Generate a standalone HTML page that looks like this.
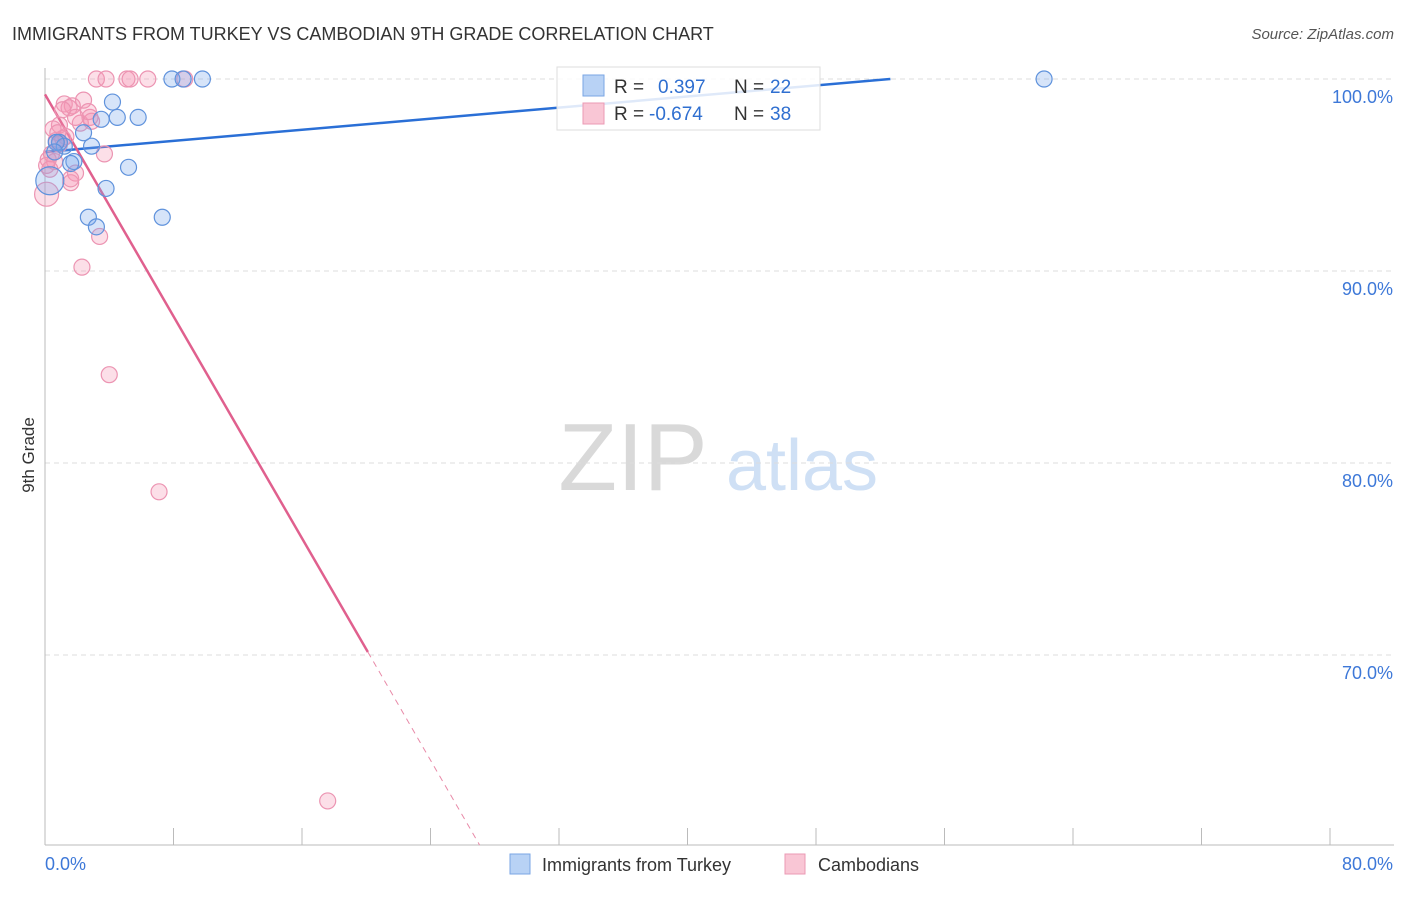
<!DOCTYPE html>
<html><head><meta charset="utf-8"><style>
body{margin:0;background:#fff;font-family:"Liberation Sans",sans-serif;}
svg text{font-family:"Liberation Sans",sans-serif;}
</style></head><body>
<svg id="c" width="1406" height="892" xmlns="http://www.w3.org/2000/svg">
<text x="12" y="40" font-size="18" fill="#333">IMMIGRANTS FROM TURKEY VS CAMBODIAN 9TH GRADE CORRELATION CHART</text>
<text x="1394" y="39" font-size="15" fill="#555" text-anchor="end" font-style="italic">Source: ZipAtlas.com</text>
<text transform="translate(34,455) rotate(-90)" font-size="17" fill="#333" text-anchor="middle">9th Grade</text>
<g>
<text x="633" y="490" font-size="96" fill="#d9d9d9" font-family="Liberation Serif,serif" text-anchor="middle">ZIP</text>
<text x="802" y="490" font-size="72" fill="#cfe0f5" text-anchor="middle">atlas</text>
</g>
<g id="grid"></g><g id="axes"></g><g id="lines"></g><g id="pts"></g>
<g>
<rect x="557" y="67" width="263" height="63" fill="#fff" fill-opacity="0.85" stroke="#ddd"/>
<rect x="583" y="75" width="21" height="21" fill="#b8d2f5" stroke="#7aa6e4"/>
<rect x="583" y="103" width="21" height="21" fill="#f9c6d5" stroke="#eb9ab4"/>
<text x="614" y="93" font-size="19" fill="#333">R =</text>
<text x="658" y="93" font-size="19" fill="#2f6fd0">0.397</text>
<text x="734" y="93" font-size="19" fill="#333">N =</text>
<text x="770" y="93" font-size="19" fill="#2f6fd0">22</text>
<text x="614" y="120" font-size="19" fill="#333">R =</text>
<text x="649" y="120" font-size="19" fill="#2f6fd0">-0.674</text>
<text x="734" y="120" font-size="19" fill="#333">N =</text>
<text x="770" y="120" font-size="19" fill="#2f6fd0">38</text>
</g>
<g>
<rect x="510" y="854" width="20" height="20" fill="#b8d2f5" stroke="#7aa6e4"/>
<text x="542" y="871" font-size="18" fill="#333">Immigrants from Turkey</text>
<rect x="785" y="854" width="20" height="20" fill="#f9c6d5" stroke="#eb9ab4"/>
<text x="818" y="871" font-size="18" fill="#333">Cambodians</text>
</g>
</svg>
<script>
const blueX=[7.9,8.6,9.8,62.2,4.2,4.5,5.8,3.5,2.9,2.4,0.9,1.8,1.6,5.2,3.8,2.7,3.2,7.3,0.3,1.2,0.7,0.6];
const blueY=[100,100,100,100,98.8,98.0,98.0,97.9,96.5,97.2,96.7,95.7,95.6,95.4,94.3,92.8,92.3,92.8,94.7,96.5,96.7,96.2];
const pinkX=[3.2,3.8,5.1,5.3,6.4,8.7,2.4,1.2,1.7,1.5,1.1,0.9,2.2,2.8,2.9,0.5,0.7,1.1,0.4,0.2,0.6,3.7,1.9,1.6,1.6,0.1,3.4,2.3,4.0,7.1,17.6,0.3,0.9,1.3,0.8,0.1,2.7,1.9];
const pinkY=[100,100,100,100,100,100,98.9,98.7,98.6,98.5,98.4,97.6,97.7,98.0,97.8,97.4,96.8,96.9,96.1,95.8,95.7,96.1,95.1,94.6,94.8,94.0,91.8,90.2,84.6,78.5,62.4,95.3,96.6,97.0,97.2,95.5,98.3,98.0];
const yTicks=[100,90,80,70];
const xTickLabels=["0.0%","80.0%"];
const blueTrend=[96.2,0.0722];
const pinkTrend=[99.2,-1.445];
const NS='http://www.w3.org/2000/svg';
const X=v=>45+v*1285/80, Y=v=>79+(100-v)*19.2;
function mk(t,a,p){const e=document.createElementNS(NS,t);for(const k in a)e.setAttribute(k,a[k]);document.getElementById(p).appendChild(e);return e;}
yTicks.forEach(t=>{
 const l=mk('line',{x1:45,x2:1394,y1:Y(t),y2:Y(t),stroke:'#ddd','stroke-dasharray':'5,4'},'grid');
 
 
 const tx=mk('text',{x:1393,y:Y(t)+24,'font-size':18,fill:'#3d78d8','text-anchor':'end'},'axes');
 tx.textContent=t.toFixed(1)+'%';
 
 
});
const ax=mk('line',{x1:45,x2:45,y1:68,y2:845,stroke:'#bbb'},'axes');


const bx=mk('line',{x1:45,x2:1394,y1:845,y2:845,stroke:'#bbb'},'axes');


for(let i=0;i<=10;i++){const t=mk('line',{x1:X(i*8),x2:X(i*8),y1:828,y2:845,stroke:'#bbb'},'axes');
 
 }
const l0=mk('text',{x:45,y:870,'font-size':18,fill:'#3d78d8'},'axes');l0.textContent=xTickLabels[0];


const l1=mk('text',{x:1393,y:870,'font-size':18,fill:'#3d78d8','text-anchor':'end'},'axes');l1.textContent=xTickLabels[1];


// trends
const bxEnd=(100-blueTrend[0])/blueTrend[1];
const bl=mk('line',{x1:X(0),y1:Y(blueTrend[0]),x2:X(bxEnd),y2:Y(100),stroke:'#2a6fd6','stroke-width':2.5},'lines');


const pSolidEnd=20.1, pDashEnd=(60.1-pinkTrend[0])/pinkTrend[1];
const pl=mk('line',{x1:X(0),y1:Y(pinkTrend[0]),x2:X(pSolidEnd),y2:Y(pinkTrend[0]+pinkTrend[1]*pSolidEnd),stroke:'#e0608e','stroke-width':2.5},'lines');


const pd=mk('line',{x1:X(pSolidEnd),y1:Y(pinkTrend[0]+pinkTrend[1]*pSolidEnd),x2:X(pDashEnd),y2:Y(60.1),stroke:'#e88aa8','stroke-width':1,'stroke-dasharray':'6,5'},'lines');


pinkX.forEach((x,i)=>{const c=mk('circle',{cx:X(x),cy:Y(pinkY[i]),r:(x<0.2&&pinkY[i]<94.5)?12:8,fill:'rgba(244,150,180,0.3)',stroke:'#ec94b2','stroke-width':1.2},'pts');
 
 });
blueX.forEach((x,i)=>{const c=mk('circle',{cx:X(x),cy:Y(blueY[i]),r:(x<0.4&&blueY[i]<95)?14:8,fill:'rgba(120,165,235,0.3)',stroke:'#5f92dc','stroke-width':1.2},'pts');
 
 });
</script>
</body></html>
